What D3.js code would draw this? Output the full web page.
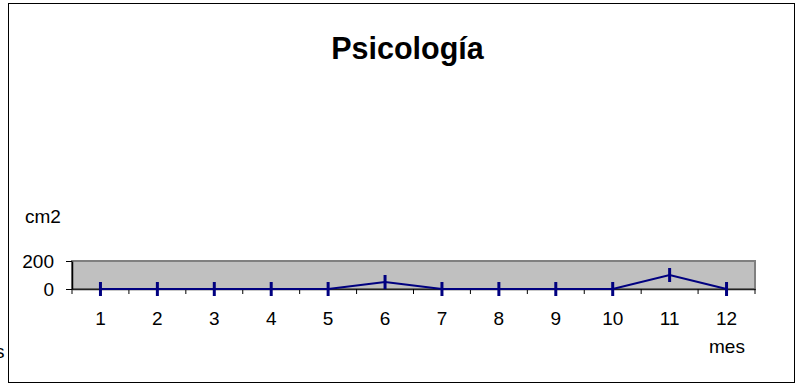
<!DOCTYPE html>
<html><head><meta charset="utf-8">
<script src="https://cdn.jsdelivr.net/npm/d3@7"></script>
<style>body{margin:0;background:#fff}svg{display:block}text{font-family:"Liberation Sans",Arial,sans-serif}</style>
</head><body><svg id="c" width="796" height="385"></svg>
<script>
const months = ["1","2","3","4","5","6","7","8","9","10","11","12"];
const values = [0,0,0,0,0,50,0,0,0,0,100,0];
const yTicks = [0,200];
const title = "Psicología";
const yLabel = "cm2";
const xLabel = "mes";

const svg = d3.select("#c");
const L = 72, R = 755, T = 261, B = 289;
const FS = 19;
svg.append("rect").attr("x",8.5).attr("y",3.5).attr("width",786).attr("height",379)
  .attr("fill","#fff").attr("stroke","#000").attr("stroke-width",1);
svg.append("text").attr("x",-5).attr("y",358).attr("font-size",FS).text("s");

const x = d3.scaleBand().domain(months).range([L,R]);
const y = d3.scaleLinear().domain([0,200]).range([B,T]);

svg.append("rect").attr("x",L).attr("y",T).attr("width",R-L).attr("height",B-T)
  .attr("fill","#c0c0c0").attr("stroke","#808080").attr("stroke-width",2);

const xa = svg.append("g").attr("transform",`translate(0,${B})`)
  .call(d3.axisBottom(x).tickSize(0).tickSizeOuter(0).tickPadding(23));
xa.select(".domain").attr("stroke","#222").attr("stroke-width",1.5);
xa.selectAll("text").attr("font-size",FS).attr("fill","#000").attr("font-family","Liberation Sans, Arial, sans-serif");
const bounds = months.map(m=>x(m)).concat([R]);
svg.append("g").selectAll("line").data(bounds).join("line")
  .attr("x1",d=>d).attr("x2",d=>d).attr("y1",B).attr("y2",B+5).attr("stroke","#000");

const ya = svg.append("g").attr("transform",`translate(${L},0)`)
  .call(d3.axisLeft(y).tickValues(yTicks).tickSize(6).tickSizeOuter(0).tickPadding(12));
ya.select(".domain").attr("stroke","#000").attr("stroke-width",1.5);
ya.selectAll("text").attr("font-size",FS).attr("fill","#000").attr("font-family","Liberation Sans, Arial, sans-serif");

const cx = d=>x(d.m)+x.bandwidth()/2;
const data = months.map((m,i)=>({m,v:values[i]}));
svg.append("path").datum(data).attr("fill","none").attr("stroke","#000080").attr("stroke-width",2)
  .attr("d",d3.line().x(cx).y(d=>y(d.v)));
svg.append("g").selectAll("line").data(data).join("line")
  .attr("x1",cx).attr("x2",cx).attr("y1",d=>y(d.v)-7).attr("y2",d=>y(d.v)+7)
  .attr("stroke","#000080").attr("stroke-width",3);

svg.append("text").attr("x",407.5).attr("y",59).attr("text-anchor","middle")
  .attr("font-size",30.5).attr("font-weight","bold").text(title);
svg.append("text").attr("x",25).attr("y",223).attr("font-size",FS).text(yLabel);
svg.append("text").attr("x",709).attr("y",353).attr("font-size",FS).text(xLabel);
</script></body></html>
